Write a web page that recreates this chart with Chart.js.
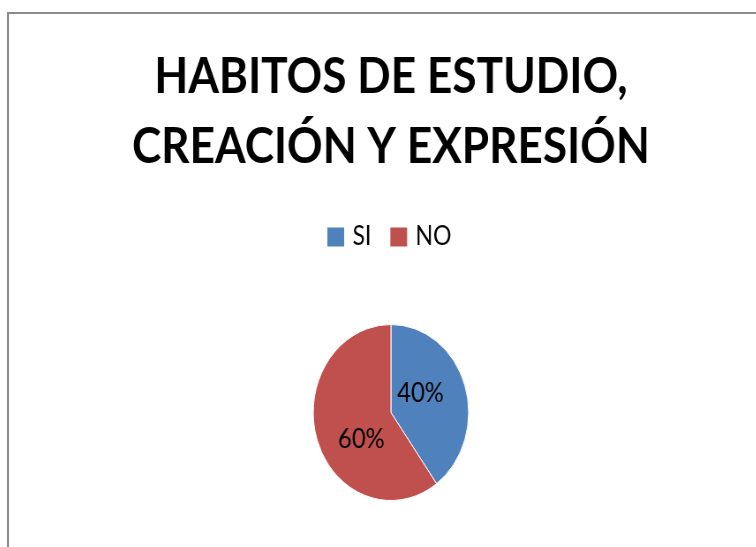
<!DOCTYPE html>
<html><head><meta charset="utf-8">
<script src="https://cdn.jsdelivr.net/npm/chart.js@4"></script>
<style>
html,body{margin:0;padding:0;background:#fff;overflow:hidden;width:756px;height:547px}
#frame{position:absolute;left:7px;top:12px;width:800px;height:600px;border-top:2px solid #8c8c8c;border-left:2px solid #8c8c8c}
#wrap{position:absolute;left:13px;top:0;width:856px;height:565px;transform:scaleX(0.883);transform-origin:0 0}
</style></head><body>
<div id="frame"></div>
<div id="wrap"><canvas id="c" width="856" height="565"></canvas></div>
<script>
const titleLines = ["HABITOS DE ESTUDIO,", "CREACIÓN Y EXPRESIÓN"];
const categories = ["SI", "NO"];
const values = [40, 60];

const sliceColors = ["#4F81BD", "#C0504D"];

const sliceLabels = {
  id: 'sliceLabels',
  afterDatasetsDraw(chart) {
    const ctx = chart.ctx;
    const meta = chart.getDatasetMeta(0);
    const data = chart.data.datasets[0].data;
    const total = data.reduce((a, b) => a + b, 0);
    ctx.save();
    ctx.font = '27px Lato';
    ctx.fillStyle = '#000';
    ctx.textAlign = 'center';
    ctx.textBaseline = 'middle';
    meta.data.forEach((arc, i) => {
      const p = arc.getProps(['x', 'y', 'startAngle', 'endAngle', 'outerRadius'], true);
      const mid = (p.startAngle + p.endAngle) / 2;
      const txt = Math.round(data[i] / total * 100) + '%';
      ctx.fillText(txt, p.x + Math.cos(mid) * p.outerRadius * 0.4, p.y + Math.sin(mid) * p.outerRadius * 0.84 + 4);
    });
    ctx.restore();
  }
};

new Chart(document.getElementById('c'), {
  type: 'pie',
  data: {
    labels: categories,
    datasets: [{
      data: values,
      backgroundColor: sliceColors,
      borderColor: '#ffffff',
      borderWidth: 1,
      radius: 88
    }]
  },
  options: {
    responsive: false,
    animation: false,
    devicePixelRatio: 1,
    layout: { padding: 0 },
    plugins: {
      title: {
        display: true,
        text: titleLines,
        color: '#000',
        font: { family: 'Lato', size: 50, weight: 'bold', lineHeight: 1.4 },
        padding: { top: 42, bottom: 17 }
      },
      legend: {
        display: true,
        position: 'top',
        labels: {
          color: '#000',
          font: { family: 'Lato', size: 26 },
          boxWidth: 12,
          boxHeight: 12,
          padding: 25,
          generateLabels(chart) {
            const items = Chart.overrides.pie.plugins.legend.labels.generateLabels(chart);
            items.forEach(it => { it.strokeStyle = it.fillStyle; it.lineWidth = 7; });
            return items;
          }
        }
      },
      tooltip: { enabled: false }
    }
  },
  plugins: [sliceLabels]
});
</script>
</body></html>
